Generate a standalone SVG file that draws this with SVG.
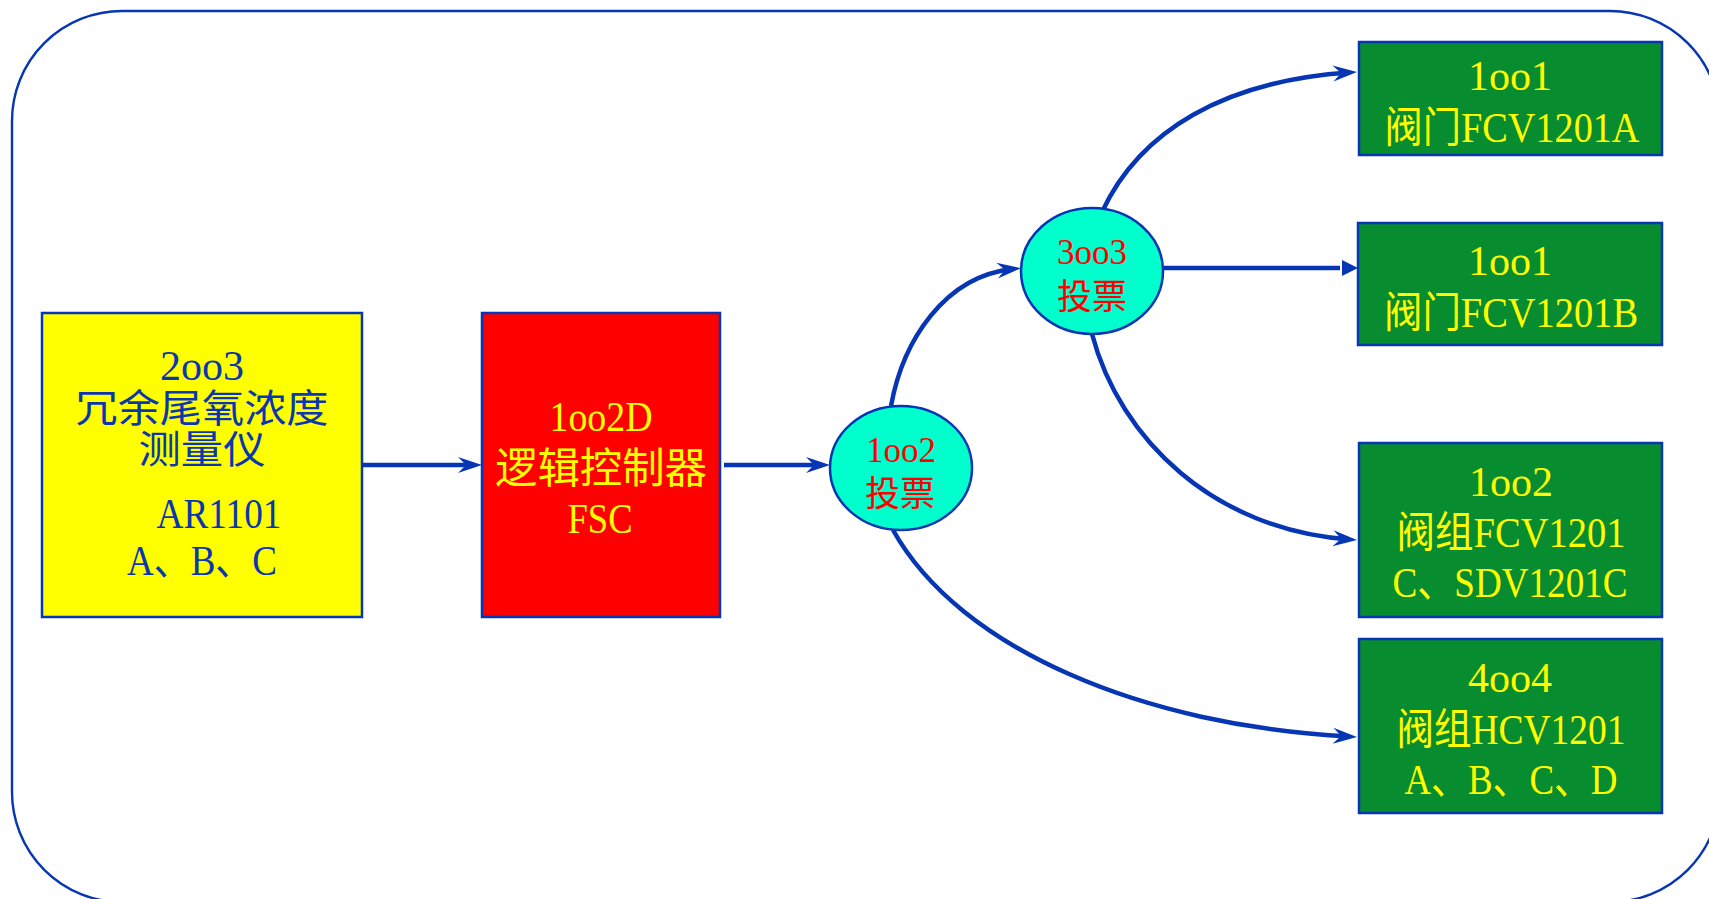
<svg xmlns="http://www.w3.org/2000/svg" width="1709" height="899" viewBox="0 0 1709 899">
  <style>
    .frame { fill: none; stroke: #0636b4; stroke-width: 2.4; }
    .box { stroke: #0636b4; stroke-width: 2.5; }
    .vote { fill: #00ffcc; stroke: #0636b4; stroke-width: 2.5; }
    .wire { fill: none; stroke: #0636b4; stroke-width: 4.5; }
    text { font-family: "Liberation Serif", "Noto Sans CJK SC", serif; text-anchor: middle; }
    .big { font-size: 42px; }
    .tight { font-size: 39px; }
    .small { font-size: 35px; }
    .blue { fill: #0a37b0; }
    .yel { fill: #ffff00; }
    .red { fill: #ff0000; }
  </style>
  <defs>
    <marker id="stealth" viewBox="-18 -10 28 20" refX="0" refY="0" markerWidth="28" markerHeight="20" markerUnits="userSpaceOnUse" orient="auto">
      <path d="M8,0 L-16,-8 L-8,0 L-16,8 Z" fill="#0636b4"/>
    </marker>
    <marker id="tri" viewBox="-2 -10 22 20" refX="0" refY="0" markerWidth="22" markerHeight="20" markerUnits="userSpaceOnUse" orient="auto">
      <path d="M18,0 L2,-8 L2,8 Z" fill="#0636b4"/>
    </marker>
  </defs>

  <!-- outer frame -->
  <rect class="frame" x="12" y="11" width="1708" height="891" rx="110" ry="110"/>

  <g id="connectors">
    <path class="wire" d="M362,465 L474,465" marker-end="url(#stealth)"/>
    <path class="wire" d="M724,465 L822,465" marker-end="url(#stealth)"/>
    <path class="wire" d="M891,406 C903,340 945,276 1013,269" marker-end="url(#stealth)"/>
    <path class="wire" d="M1102,212 C1140,130 1225,81 1349,72.5" marker-end="url(#stealth)"/>
    <path class="wire" d="M1163,268 L1340,268" marker-end="url(#tri)"/>
    <path class="wire" d="M1092,334 C1120,440 1215,530 1349,539.4" marker-end="url(#stealth)"/>
    <path class="wire" d="M893,530 C960,650 1145,726 1349,736.5" marker-end="url(#stealth)"/>
  </g>

  <g id="analyzer">
    <rect class="box" x="42" y="313" width="320" height="304" fill="#ffff00"/>
    <text class="big blue" x="202" y="380">2oo3</text>
    <text class="tight blue" x="202" y="422" textLength="253" lengthAdjust="spacingAndGlyphs">冗余尾氧浓度</text>
    <text class="tight blue" x="202" y="463" textLength="127" lengthAdjust="spacingAndGlyphs">测量仪</text>
    <text class="big blue" x="219" y="528" textLength="125" lengthAdjust="spacingAndGlyphs">AR1101</text>
    <text class="big blue" x="202" y="575" textLength="150" lengthAdjust="spacingAndGlyphs">A、B、C</text>
  </g>

  <g id="controller">
    <rect class="box" x="482" y="313" width="238" height="304" fill="#ff0000"/>
    <text class="big yel" x="601" y="431" textLength="103" lengthAdjust="spacingAndGlyphs">1oo2D</text>
    <text class="big yel" x="601" y="483" textLength="212" lengthAdjust="spacingAndGlyphs">逻辑控制器</text>
    <text class="big yel" x="600" y="533" textLength="65" lengthAdjust="spacingAndGlyphs">FSC</text>
  </g>

  <g id="vote-1oo2">
    <ellipse class="vote" cx="901" cy="468" rx="71" ry="62"/>
    <text class="small red" x="901" y="462">1oo2</text>
    <text class="small red" x="900" y="506" textLength="70" lengthAdjust="spacingAndGlyphs">投票</text>
  </g>

  <g id="vote-3oo3">
    <ellipse class="vote" cx="1092" cy="271" rx="71" ry="63"/>
    <text class="small red" x="1092" y="264">3oo3</text>
    <text class="small red" x="1092" y="309" textLength="70" lengthAdjust="spacingAndGlyphs">投票</text>
  </g>

  <g id="valve-a">
    <rect class="box" x="1359" y="42" width="303" height="113" fill="#088c30"/>
    <text class="big yel" x="1510" y="90">1oo1</text>
    <text class="big yel" x="1512" y="142" textLength="255" lengthAdjust="spacingAndGlyphs">阀门FCV1201A</text>
  </g>

  <g id="valve-b">
    <rect class="box" x="1358" y="223" width="304" height="122" fill="#088c30"/>
    <text class="big yel" x="1510" y="275">1oo1</text>
    <text class="big yel" x="1511" y="327" textLength="254" lengthAdjust="spacingAndGlyphs">阀门FCV1201B</text>
  </g>

  <g id="valve-group-c">
    <rect class="box" x="1359" y="443" width="303" height="174" fill="#088c30"/>
    <text class="big yel" x="1511" y="496">1oo2</text>
    <text class="big yel" x="1511" y="547" textLength="229" lengthAdjust="spacingAndGlyphs">阀组FCV1201</text>
    <text class="big yel" x="1510" y="597" textLength="235" lengthAdjust="spacingAndGlyphs">C、SDV1201C</text>
  </g>

  <g id="valve-group-d">
    <rect class="box" x="1359" y="639" width="303" height="174" fill="#088c30"/>
    <text class="big yel" x="1510" y="692">4oo4</text>
    <text class="big yel" x="1511" y="744" textLength="229" lengthAdjust="spacingAndGlyphs">阀组HCV1201</text>
    <text class="big yel" x="1511" y="794" textLength="213" lengthAdjust="spacingAndGlyphs">A、B、C、D</text>
  </g>
</svg>
